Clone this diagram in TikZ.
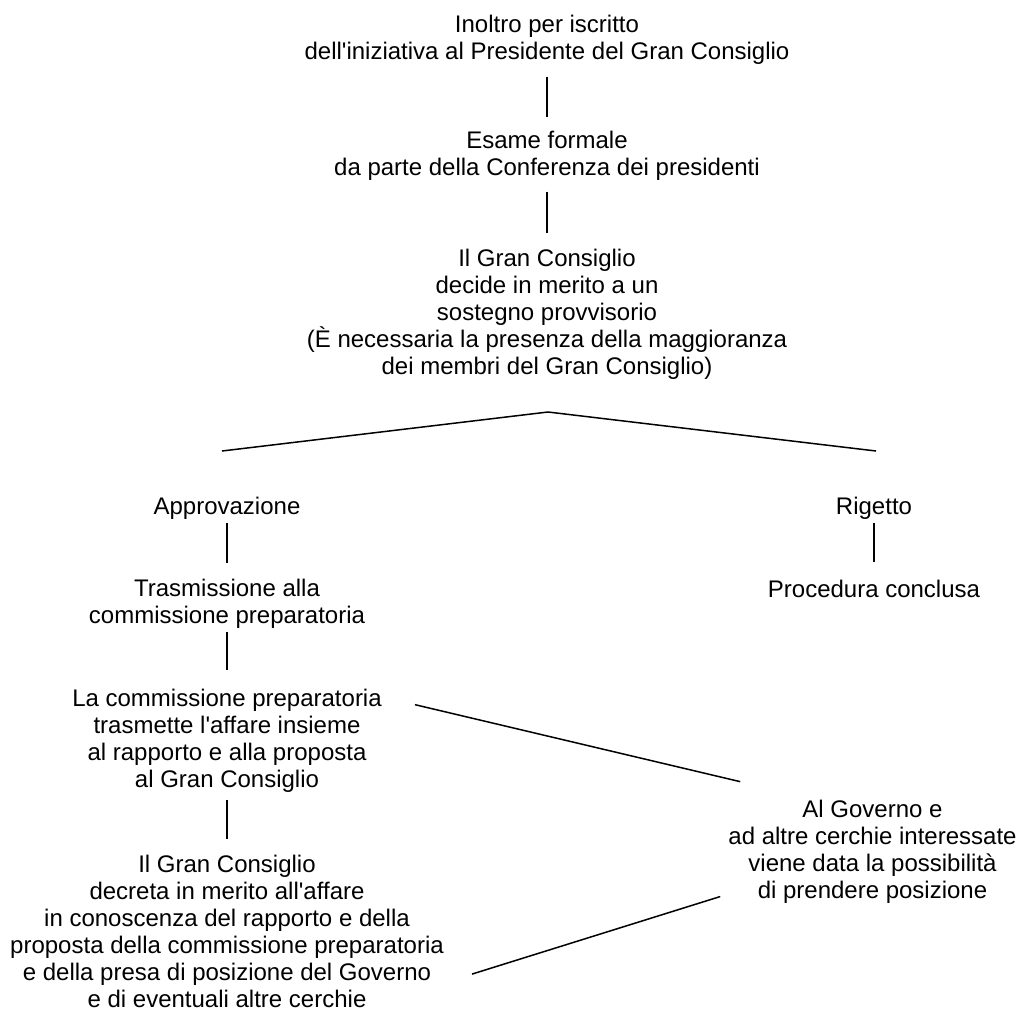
\documentclass[tikz,border=0pt]{standalone}
\usepackage{fontspec}
\setmainfont{Liberation Sans}

\tikzset{
  stage/.style={align=center, inner sep=0pt, font=\fontsize{24}{27}\selectfont,
    execute at begin node=\strut, execute at end node=\strut},
  link/.style={line width=1.5pt},
}

\begin{document}
\begin{tikzpicture}[x=1pt,y=-1pt]
        \useasboundingbox (0,0) rectangle (1020,1012);
        \node[stage] (init) at (547,41.1) {Inoltro per iscritto\\dell\textquotesingle{}iniziativa al Presidente del Gran Consiglio};
        \node[stage] (esame) at (547,157.1) {Esame formale\\da parte della Conferenza dei presidenti};
        \node[stage] (decide) at (547,315.6) {Il Gran Consiglio\\decide in merito a un\\sostegno provvisorio\\(È necessaria la presenza della maggioranza\\dei membri del Gran Consiglio)};
        \node[stage] (approv) at (227,508.6) {Approvazione};
        \node[stage] (rigetto) at (874,508.6) {Rigetto};
        \node[stage] (trasm) at (227,605.1) {Trasmissione alla\\commissione preparatoria};
        \node[stage] (concl) at (874,591.6) {Procedura conclusa};
        \node[stage] (rapporto) at (227,742.1) {La commissione preparatoria\\trasmette l\textquotesingle{}affare insieme\\al rapporto e alla proposta\\al Gran Consiglio};
        \node[stage] (governo) at (872.5,853.1) {Al Governo e\\ad altre cerchie interessate\\viene data la possibilità\\di prendere posizione};
        \node[stage] (decreto) at (227,935.1) {Il Gran Consiglio\\decreta in merito all\textquotesingle{}affare\\in conoscenza del rapporto e della\\proposta della commissione preparatoria\\e della presa di posizione del Governo\\e di eventuali altre cerchie};
        \coordinate (fork) at (548,412);
        \coordinate (forkL) at (222,451);
        \coordinate (forkR) at (876,451);
        \draw[link,shorten <=9pt,shorten >=14pt] (init) -- (esame);
        \draw[link,shorten <=8pt,shorten >=16pt] (esame) -- (decide);
        \draw[link] (forkL) -- (fork) -- (forkR);
        \draw[link,shorten <=1pt,shorten >=16pt] (approv) -- (trasm);
        \draw[link,shorten <=1pt,shorten >=16pt] (rigetto) -- (concl);
        \draw[link,shorten <=0pt,shorten >=19pt] (trasm) -- (rapporto);
        \draw[link,shorten <=4pt,shorten >=16pt] (rapporto) -- (decreto);
        \draw[link] ([shift={(33,16)}]rapporto.north east) -- ([shift={(12,-18)}]governo.north west);
        \draw[link] ([shift={(28,39)}]decreto.east) -- ([shift={(-8,-10)}]governo.south west);
    \end{tikzpicture}
\end{document}
